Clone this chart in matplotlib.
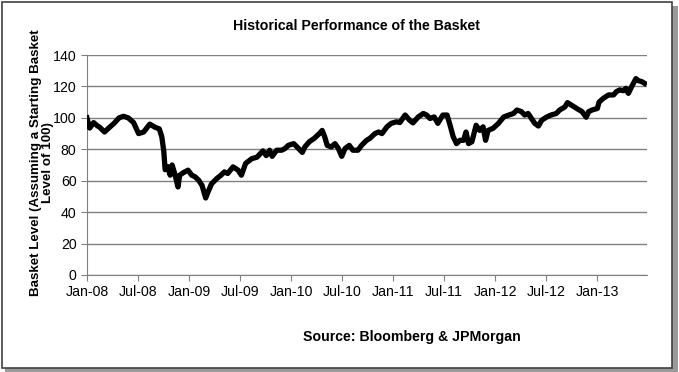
import numpy as np
import pandas as pd
import matplotlib
import matplotlib.pyplot as plt
import matplotlib.dates as mdates
from matplotlib.patches import Rectangle

matplotlib.use('Agg')
plt.rcParams['font.family'] = ['Liberation Sans', 'DejaVu Sans']

# basket level (approx. dates)
dates = [
    '2008-01-01', '2008-01-11', '2008-01-25', '2008-02-07', '2008-02-16', '2008-03-04',
    '2008-03-22', '2008-04-07', '2008-04-25', '2008-05-11', '2008-05-28', '2008-06-16',
    '2008-07-04', '2008-07-22', '2008-08-13', '2008-09-01', '2008-09-16', '2008-09-25',
    '2008-10-02', '2008-10-07', '2008-10-16', '2008-10-25', '2008-11-01', '2008-11-11',
    '2008-11-22', '2008-11-28', '2008-12-10', '2008-12-28', '2009-01-10', '2009-01-22',
    '2009-02-04', '2009-02-16', '2009-03-01', '2009-03-10', '2009-03-22', '2009-04-10',
    '2009-04-25', '2009-05-07', '2009-05-19', '2009-06-07', '2009-06-25', '2009-07-07',
    '2009-07-22', '2009-08-13', '2009-09-01', '2009-09-13', '2009-09-22', '2009-10-04',
    '2009-10-16', '2009-10-25', '2009-11-10', '2009-11-28', '2009-12-10', '2009-12-22',
    '2010-01-10', '2010-01-22', '2010-02-10', '2010-02-19', '2010-03-07', '2010-03-25',
    '2010-04-13', '2010-04-22', '2010-05-01', '2010-05-10', '2010-05-25', '2010-06-07',
    '2010-06-19', '2010-07-01', '2010-07-13', '2010-07-28', '2010-08-10', '2010-08-28',
    '2010-09-10', '2010-09-28', '2010-10-10', '2010-10-28', '2010-11-10', '2010-11-22',
    '2010-12-10', '2010-12-25', '2011-01-13', '2011-01-25', '2011-02-13', '2011-03-01',
    '2011-03-13', '2011-04-01', '2011-04-19', '2011-05-01', '2011-05-13', '2011-05-28',
    '2011-06-10', '2011-06-28', '2011-07-13', '2011-07-22', '2011-08-04', '2011-08-16',
    '2011-08-28', '2011-09-10', '2011-09-19', '2011-09-28', '2011-10-10', '2011-10-25',
    '2011-11-07', '2011-11-19', '2011-11-28', '2011-12-07', '2011-12-25', '2012-01-13',
    '2012-02-01', '2012-02-19', '2012-03-07', '2012-03-19', '2012-04-04', '2012-04-16',
    '2012-04-28', '2012-05-10', '2012-05-22', '2012-06-04', '2012-06-16', '2012-07-04',
    '2012-07-19', '2012-08-07', '2012-08-19', '2012-09-07', '2012-09-16', '2012-10-01',
    '2012-10-19', '2012-11-07', '2012-11-22', '2012-12-01', '2012-12-13', '2013-01-01',
    '2013-01-07', '2013-01-22', '2013-02-10', '2013-02-28', '2013-03-10', '2013-03-22',
    '2013-04-04', '2013-04-13', '2013-04-22', '2013-05-04', '2013-05-19', '2013-05-28',
    '2013-06-10', '2013-06-19',
]
levels = [
    100, 93.5, 97, 95, 94, 91,
    94, 96.5, 100, 101, 100, 97,
    90, 91, 96, 94, 93, 88,
    79, 67, 69, 63.5, 70, 64,
    56, 63.5, 65, 66.7, 63.5, 62.5,
    60.3, 57, 49, 53, 58, 61.4,
    63.5, 65.6, 64.6, 68.8, 66.7, 63.5,
    71, 74, 75, 77.3, 79, 76,
    79.4, 75.5, 79.4, 79.4, 80.5, 82.5,
    83.6, 81.5, 78, 81.5, 84.8, 87,
    90.2, 92, 88, 82.5, 81.5, 83.6,
    80.5, 75.5, 80.5, 82.5, 79.4, 79.4,
    82.5, 85.7, 87, 90, 91, 90,
    94.3, 96.5, 97.5, 97, 101.8, 98.5,
    96.8, 100.6, 102.8, 101.8, 99.6, 100.6,
    96.5, 101.8, 101.8, 96.5, 88, 83.6,
    85.7, 85.7, 91, 83.6, 84.8, 95.3,
    92, 94.3, 85.7, 92, 93.4, 96.5,
    100.6, 101.8, 102.8, 105, 104, 101.8,
    102.8, 99.6, 96.5, 94.8, 98.5, 100.6,
    101.8, 102.8, 105, 107, 109.7, 108,
    106, 104, 100.4, 104, 105, 106,
    110, 112.4, 114.6, 114.6, 116.7, 117.8,
    117.3, 118.8, 115.6, 120, 125, 123.7,
    123, 122,
]

tick_dates = ['2008-01-01', '2008-07-01', '2009-01-01', '2009-07-01', '2010-01-01',
              '2010-07-01', '2011-01-01', '2011-07-01', '2012-01-01', '2012-07-01',
              '2013-01-01']
y_ticks = [0, 20, 40, 60, 80, 100, 120, 140]

x = pd.to_datetime(dates)

fig = plt.figure(figsize=(6.79, 3.72), dpi=100)

# frame with shadow round the whole chart
fig.patches.append(Rectangle((0.008, 0.0), 0.99, 0.985, transform=fig.transFigure,
                             facecolor='#9a9a9a', edgecolor='none', zorder=0))
fig.patches.append(Rectangle((0.003, 0.012), 0.987, 0.982, transform=fig.transFigure,
                             facecolor='white', edgecolor='#404040', lw=1.2, zorder=1))

ax = fig.add_axes([0.128, 0.261, 0.825, 0.591])
ax.set_zorder(3)
ax.set_facecolor('none')
ax.plot(x, levels, color='black', lw=3.8, solid_joinstyle='round', zorder=3)

ax.set_ylim(0, 140)
ax.set_yticks(y_ticks)
ax.set_xlim(pd.Timestamp('2008-01-01'), pd.Timestamp('2013-06-28'))
ax.set_xticks(pd.to_datetime(tick_dates))
ax.xaxis.set_major_formatter(mdates.DateFormatter('%b-%y'))

ax.grid(axis='y', color='#808080', lw=1)
ax.set_axisbelow(True)
for s in ['top', 'right']:
    ax.spines[s].set_visible(False)
for s in ['left', 'bottom']:
    ax.spines[s].set_color('#808080')
ax.tick_params(axis='both', colors='#808080', labelcolor='black', labelsize=10.2,
               length=4, direction='out')

fig.text(0.062, 0.562, 'Basket Level (Assuming a Starting Basket\nLevel of 100)',
         rotation=90, ha='center', va='center', multialignment='center',
         fontsize=9.6, fontweight='bold', linespacing=1.0, zorder=4)
fig.text(0.525, 0.93, 'Historical Performance of the Basket', ha='center', va='center',
         fontsize=10.2, fontweight='bold', zorder=4)
fig.text(0.607, 0.095, 'Source: Bloomberg & JPMorgan', ha='center', va='center',
         fontsize=10.2, fontweight='bold', zorder=4)

fig.savefig('out.png', dpi=100)
